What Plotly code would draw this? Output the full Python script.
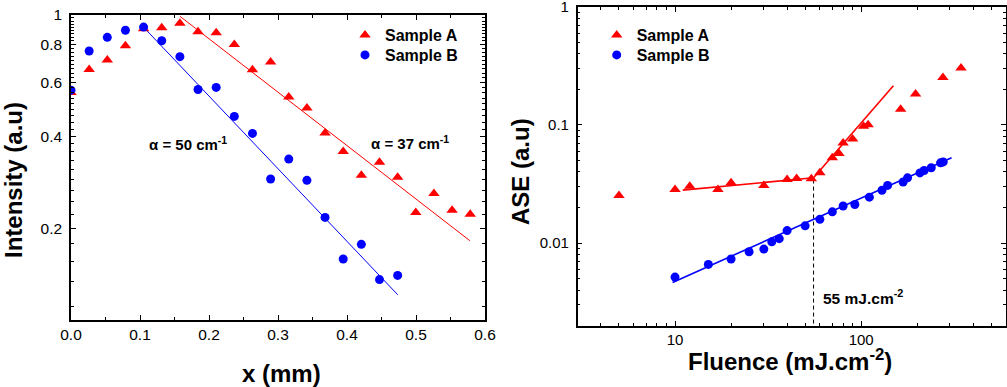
import numpy as np
import plotly.graph_objects as go

# ---------------- data: left panel (intensity vs x) ----------------
x_A = [0.0, 0.0263, 0.0526, 0.0789, 0.1052, 0.1315, 0.1578, 0.1841, 0.2104, 0.2367,
       0.263, 0.2893, 0.3156, 0.3419, 0.3682, 0.3945, 0.4208, 0.4471, 0.4734, 0.4997,
       0.526, 0.5523, 0.5786]
I_A = [0.557, 0.663, 0.712, 0.793, 0.902, 0.909, 0.939, 0.882, 0.875, 0.801,
       0.661, 0.701, 0.538, 0.496, 0.410, 0.357, 0.298, 0.329, 0.294, 0.225,
       0.260, 0.229, 0.222]
x_B = [0.0, 0.0263, 0.0526, 0.0789, 0.1052, 0.1315, 0.1578, 0.1841, 0.2104, 0.2367,
       0.263, 0.2893, 0.3156, 0.3419, 0.3682, 0.3945, 0.4208, 0.4471, 0.4734]
I_B = [0.567, 0.762, 0.845, 0.891, 0.913, 0.823, 0.730, 0.570, 0.579, 0.465,
       0.409, 0.290, 0.337, 0.287, 0.217, 0.1585, 0.177, 0.1357, 0.140]
fitA_x = [0.158, 0.578]
fitA_y = [0.99, 0.182]
fitB_x = [0.105, 0.4735]
fitB_y = [0.913, 0.121]

# ---------------- data: right panel (ASE vs fluence) ----------------
F_A = [5, 10, 12, 17, 20, 30, 40, 45, 54, 60, 70, 76, 80, 90, 103, 109, 163, 196, 275, 344]
ASE_A = [0.0253, 0.0284, 0.0303, 0.0284, 0.0324, 0.0308, 0.0345, 0.0352, 0.0350, 0.0394,
         0.0527, 0.0573, 0.0705, 0.0762, 0.0973, 0.1006, 0.136, 0.183, 0.252, 0.303]
F_B = [10, 15.1, 20, 25, 30, 33.1, 36.3, 40, 50, 60, 70, 80, 92.5, 110.7, 129.4, 138.7,
       168, 177.5, 207, 218, 238, 267, 276]
ASE_B = [0.00516, 0.0066, 0.00733, 0.00845, 0.0089, 0.01025, 0.0109, 0.01277, 0.0140,
         0.0159, 0.0184, 0.0206, 0.0212, 0.0245, 0.0280, 0.0308, 0.0329, 0.0357, 0.0393,
         0.0412, 0.0434, 0.0478, 0.0487]
fitA_low_F = [11, 55.5]
fitA_low_y = [0.0281, 0.0357]
fitA_high_F = [55.5, 149]
fitA_high_y = [0.0357, 0.2146]
fitB_F = [9.7, 306]
fitB_y2 = [0.00465, 0.0527]
threshold_F = [55.5, 55.5]
threshold_y = [0.0345, 0.002]

RED = "#FF0000"
BLUE = "#0000FF"
FONT = "Arial, Liberation Sans, sans-serif"
W, H = 1007, 387


def px(x):
    return x / W


def py(y):
    return 1 - y / H


fig = go.Figure()

# left panel
fig.add_trace(go.Scatter(x=fitA_x, y=fitA_y, mode="lines", line=dict(color=RED, width=1),
                         showlegend=False, xaxis="x", yaxis="y"))
fig.add_trace(go.Scatter(x=fitB_x, y=fitB_y, mode="lines", line=dict(color=BLUE, width=1),
                         showlegend=False, xaxis="x", yaxis="y"))
fig.add_trace(go.Scatter(x=x_A, y=I_A, mode="markers", name="Sample A",
                         marker=dict(symbol="triangle-up", size=10, color=RED),
                         xaxis="x", yaxis="y", legend="legend"))
fig.add_trace(go.Scatter(x=x_B, y=I_B, mode="markers", name="Sample B",
                         marker=dict(symbol="circle", size=9, color=BLUE),
                         xaxis="x", yaxis="y", legend="legend2"))

# right panel
fig.add_trace(go.Scatter(x=threshold_F, y=threshold_y, mode="lines",
                         line=dict(color="black", width=1, dash="4px,3px"),
                         showlegend=False, xaxis="x2", yaxis="y2"))
fig.add_trace(go.Scatter(x=fitA_low_F, y=fitA_low_y, mode="lines", line=dict(color=RED, width=1.6),
                         showlegend=False, xaxis="x2", yaxis="y2"))
fig.add_trace(go.Scatter(x=fitA_high_F, y=fitA_high_y, mode="lines", line=dict(color=RED, width=1.6),
                         showlegend=False, xaxis="x2", yaxis="y2"))
fig.add_trace(go.Scatter(x=fitB_F, y=fitB_y2, mode="lines", line=dict(color=BLUE, width=1.6),
                         showlegend=False, xaxis="x2", yaxis="y2"))
fig.add_trace(go.Scatter(x=F_A, y=ASE_A, mode="markers", name="Sample A",
                         marker=dict(symbol="triangle-up", size=10, color=RED),
                         xaxis="x2", yaxis="y2", legend="legend3"))
fig.add_trace(go.Scatter(x=F_B, y=ASE_B, mode="markers", name="Sample B",
                         marker=dict(symbol="circle", size=9, color=BLUE),
                         xaxis="x2", yaxis="y2", legend="legend4"))

# minor tick positions
left_minor = [0.2 * j + 0.2 * k / 9 for j in range(0, 5) for k in range(1, 9)]
left_minor = [v for v in left_minor if 0.1 <= v <= 1.0]
right_y_minor = [m * 10.0 ** e for e in range(-3, 0) for m in range(2, 10)]
right_y_minor = [v for v in right_y_minor if 0.002 <= v <= 1]
right_x_minor = [m * 10.0 ** e for e in range(0, 3) for m in range(2, 10)]
right_x_minor = [v for v in right_x_minor if 3 <= v <= 600 and v not in (10, 100)]


def axis_common(fs):
    return dict(showline=True, linewidth=1.5, linecolor="black", mirror="allticks",
                ticks="inside", ticklen=5, tickwidth=1, tickcolor="black",
                showgrid=False, zeroline=False, automargin=False,
                ticklabeloverflow="allow",
                tickfont=dict(family=FONT, size=fs, color="black"))


def legend_at(xpix, ytop):
    return dict(x=px(xpix), y=py(ytop), xanchor="left", yanchor="top",
                bgcolor="rgba(0,0,0,0)", borderwidth=0,
                font=dict(family=FONT, size=16, weight="bold", color="black"),
                tracegroupgap=0, itemwidth=30)


fig.update_layout(
    template="none",
    width=W, height=H,
    margin=dict(l=0, r=0, t=0, b=0, pad=0, autoexpand=False),
    plot_bgcolor="white", paper_bgcolor="white",
    font=dict(family=FONT, color="black"),
    xaxis=dict(domain=[px(71), px(485)], anchor="y", range=[0, 0.6], dtick=0.1, tick0=0,
               tickformat=".1f", ticklabelstandoff=0,
               minor=dict(ticks="inside", ticklen=3, dtick=0.05, tick0=0, tickcolor="black"),
               **axis_common(15.5)),
    yaxis=dict(domain=[py(320), py(15)], anchor="x", type="log", range=[-1, 0],
               tickmode="array", tickvals=[0.2, 0.4, 0.6, 0.8, 1],
               ticktext=["0.2", "0.4", "0.6", "0.8", "1"], ticklabelstandoff=4,
               minor=dict(ticks="inside", ticklen=3, tickmode="array", tickvals=left_minor,
                          tickcolor="black"),
               **axis_common(15.5)),
    xaxis2=dict(domain=[px(577.7), px(1006)], anchor="y2", type="log",
                range=[np.log10(3), np.log10(600)], tickmode="array", tickvals=[10, 100],
                ticktext=["10", "100"], ticklabelstandoff=0,
                minor=dict(ticks="inside", ticklen=3, tickmode="array", tickvals=right_x_minor,
                           tickcolor="black"),
                **axis_common(15)),
    yaxis2=dict(domain=[py(325.7), py(6.8)], anchor="x2", type="log",
                range=[np.log10(0.002), 0], tickmode="array", tickvals=[0.01, 0.1, 1],
                ticktext=["0.01", "0.1", "1"], ticklabelstandoff=4,
                minor=dict(ticks="inside", ticklen=3, tickmode="array", tickvals=right_y_minor,
                           tickcolor="black"),
                **axis_common(15)),
    legend=legend_at(345, 18),
    legend2=legend_at(345, 38),
    legend3=legend_at(596.7, 18),
    legend4=legend_at(596.7, 38),
)

ann_font = dict(family=FONT, size=15, color="black")
title_font = dict(family=FONT, size=24, color="black")
annotations = [
    dict(x=px(188), y=py(143), text="<b>α = 50 cm<sup>-1</sup></b>", font=ann_font),
    dict(x=px(410), y=py(142), text="<b>α = 37 cm<sup>-1</sup></b>", font=ann_font),
    dict(x=px(863), y=py(297), text="<b>55 mJ.cm<sup>-2</sup></b>", font=dict(ann_font, size=15.5)),
    dict(x=px(281), y=py(373), text="<b>x (mm)</b>", font=title_font),
    dict(x=px(790), y=py(360), text="<b>Fluence (mJ.cm<sup>-2</sup>)</b>", font=title_font),
    dict(x=px(14), y=py(180), text="<b>Intensity (a.u)</b>", font=title_font, textangle=-90),
    dict(x=px(520), y=py(172), text="<b>ASE (a.u)</b>", font=title_font, textangle=-90),
]
for a in annotations:
    a.update(xref="paper", yref="paper", showarrow=False, xanchor="center", yanchor="middle")
fig.update_layout(annotations=annotations)

fig.write_html("out.html", config={"displayModeBar": False},
               post_script="document.body.style.margin='0';document.body.style.overflow='hidden';")
